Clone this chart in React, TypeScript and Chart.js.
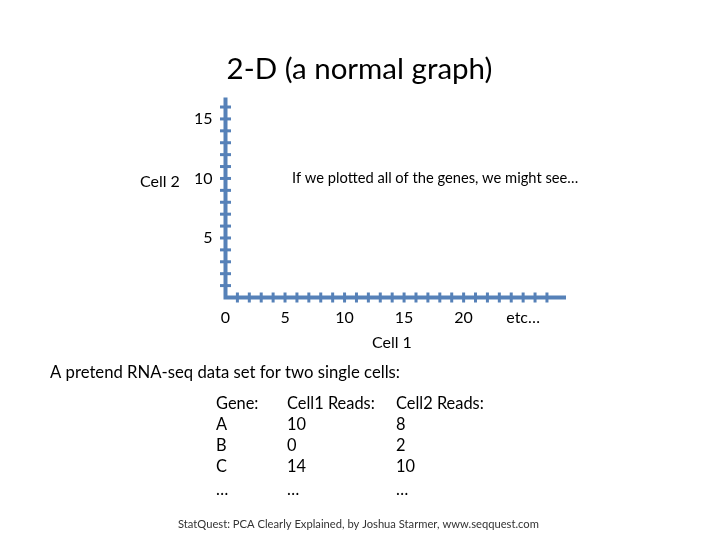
import React, { useEffect, useRef } from "react";
import { Chart, registerables } from "chart.js";

Chart.register(...registerables);

// ---- data ----
const xTickValues = [0, 5, 10, 15, 20, 25];
const xTickLabels = ["0", "5", "10", "15", "20", "etc…"];
const yTickValues = [5, 10, 15];
const yTickLabels = ["5", "10", "15"];
const xMax = 28.6;
const yMax = 16.8;
const xMinorMax = 27;
const yMinorMax = 16;

const chartTitle = "2-D (a normal graph)";
const xAxisTitle = "Cell 1";
const yAxisTitle = "Cell 2";
const noteText = "If we plotted all of the genes, we might see…";
const tableCaption = "A pretend RNA-seq data set for two single cells:";
const tableHeaders = ["Gene:", "Cell1 Reads:", "Cell2 Reads:"];
const genes = ["A", "B", "C", "…"];
const cell1Reads = ["10", "0", "14", "…"];
const cell2Reads = ["8", "2", "10", "…"];
const footer = "StatQuest: PCA Clearly Explained, by Joshua Starmer, www.seqquest.com";

const FONT = "Lato, 'Open Sans', sans-serif";
const AXIS_COLOR = "#5681b8";

const textPlugin = {
  id: "extraText",
  afterDraw(chart: any) {
    const ctx = chart.ctx;
    const xs = chart.scales.x;
    const ys = chart.scales.y;
    ctx.save();
    const x0 = xs.getPixelForValue(0);
    const y0 = ys.getPixelForValue(0);
    ctx.strokeStyle = AXIS_COLOR;
    ctx.lineCap = "butt";
    ctx.lineWidth = 3;
    for (let v = 1; v <= xMinorMax; v++) {
      const px = xs.getPixelForValue(v);
      ctx.beginPath();
      ctx.moveTo(px, y0 - 5);
      ctx.lineTo(px, y0 + 5);
      ctx.stroke();
    }
    for (let v = 1; v <= yMinorMax; v++) {
      const py = ys.getPixelForValue(v);
      ctx.beginPath();
      ctx.moveTo(x0 - 5.5, py);
      ctx.lineTo(x0 + 5.5, py);
      ctx.stroke();
    }
    ctx.lineWidth = 4;
    ctx.beginPath();
    ctx.moveTo(x0, ys.getPixelForValue(yMax));
    ctx.lineTo(x0, y0 + 2);
    ctx.moveTo(x0 - 2, y0);
    ctx.lineTo(xs.getPixelForValue(xMax), y0);
    ctx.stroke();

    ctx.fillStyle = "#000";
    ctx.textBaseline = "middle";
    ctx.textAlign = "center";
    ctx.font = `29.5px ${FONT}`;
    ctx.fillText(chartTitle, 359.5, 69);

    ctx.textAlign = "left";
    ctx.font = `16px ${FONT}`;
    ctx.fillText(yAxisTitle, 140, 182);
    ctx.fillText(xAxisTitle, 372, 343);
    ctx.font = `14.7px ${FONT}`;
    ctx.fillText(noteText, 292, 178);
    ctx.font = `16.7px ${FONT}`;
    ctx.fillText(tableCaption, 50, 373);

    ctx.font = `16.4px ${FONT}`;
    const colX = [216, 287, 396];
    const rowY = [404, 425, 446, 467, 490];
    tableHeaders.forEach((h, i) => ctx.fillText(h, colX[i], rowY[0]));
    genes.forEach((g, r) => {
      ctx.fillText(g, colX[0], rowY[r + 1]);
      ctx.fillText(cell1Reads[r], colX[1], rowY[r + 1]);
      ctx.fillText(cell2Reads[r], colX[2], rowY[r + 1]);
    });

    ctx.font = `11.2px ${FONT}`;
    ctx.fillStyle = "#333";
    ctx.fillText(footer, 178, 524);
    ctx.restore();
  },
};

export default function App() {
  const ref = useRef<HTMLCanvasElement | null>(null);
  useEffect(() => {
    document.body.style.margin = "0";
    const chart = new Chart(ref.current as HTMLCanvasElement, {
      type: "scatter",
      data: { datasets: [{ data: [] }] },
      options: {
        animation: false,
        responsive: false,
        layout: { padding: { left: 185.5, top: 97.5, right: 154, bottom: 202.5 } },
        plugins: { legend: { display: false }, tooltip: { enabled: false }, title: { display: false } },
        scales: {
          x: {
            type: "linear",
            min: 0,
            max: xMax,
            grid: { display: false, drawTicks: false },
            border: { display: false },
            afterFit: (s: any) => { s.height = 40; },
            afterBuildTicks: (s: any) => { s.ticks = xTickValues.map((v) => ({ value: v })); },
            ticks: {
              padding: 11,
              color: "#000",
              font: { family: FONT, size: 16 },
              maxRotation: 0,
              autoSkip: false,
              callback: (v: any) => { const i = xTickValues.indexOf(Number(v)); return i >= 0 ? xTickLabels[i] : ""; },
            },
          },
          y: {
            type: "linear",
            min: 0,
            max: yMax,
            grid: { display: false, drawTicks: false },
            border: { display: false },
            afterFit: (s: any) => { s.width = 40; },
            afterBuildTicks: (s: any) => { s.ticks = yTickValues.map((v) => ({ value: v })); },
            ticks: {
              padding: 13,
              color: "#000",
              font: { family: FONT, size: 16 },
              autoSkip: false,
              callback: (v: any) => { const i = yTickValues.indexOf(Number(v)); return i >= 0 ? yTickLabels[i] : ""; },
            },
          },
        },
      },
      plugins: [textPlugin],
    });
    return () => chart.destroy();
  }, []);
  return <canvas ref={ref} width={720} height={540} style={{ display: "block" }} />;
}
